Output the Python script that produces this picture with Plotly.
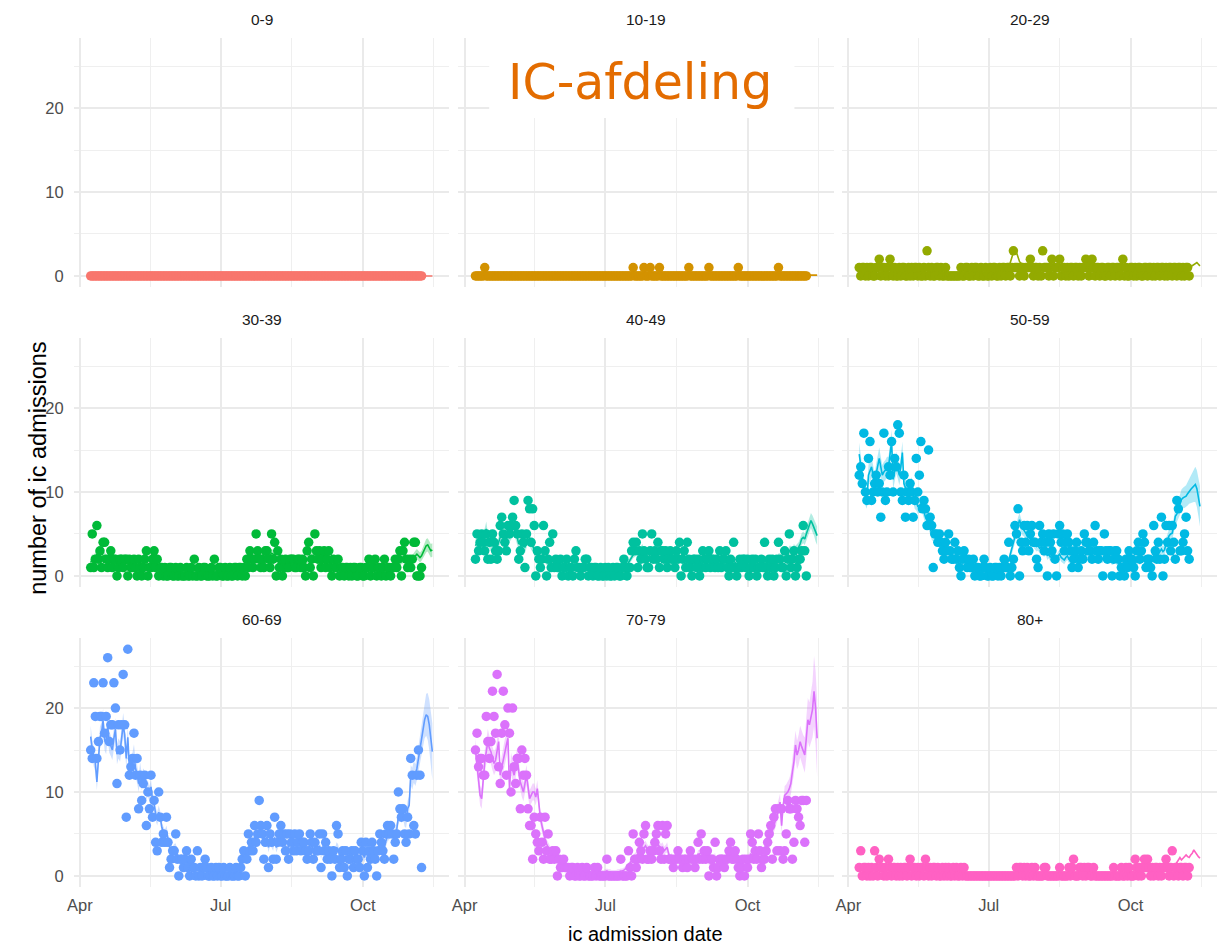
import pandas as pd
import plotly.graph_objects as go

# ---------------------------------------------------------------------------
# Daily IC admissions per age group (dots) and the model estimate with its
# uncertainty band (line + ribbon). Reported days start on 8 April 2020, the
# estimate runs one week further.
# ---------------------------------------------------------------------------
first_day = "2020-04-08"

age_groups = ["0-9", "10-19", "20-29", "30-39", "40-49",
              "50-59", "60-69", "70-79", "80+"]
group_colors = ["#F8766D", "#D39200", "#93AA00", "#00BA38", "#00C19F",
                "#00B9E3", "#619CFF", "#DB72FB", "#FF61C3"]

month_ticks = ["2020-04-01", "2020-07-01", "2020-10-01"]
month_labels = ["Apr", "Jul", "Oct"]
month_minor = ["2020-05-16 12:00", "2020-08-16", "2020-11-16"]
count_ticks = [0, 10, 20]
count_minor = [5, 15, 25]

# ---- observed admissions ---------------------------------------------------
obs_0_9 = [
    0, 0, 0, 0, 0, 0, 0, 0, 0, 0,
    0, 0, 0, 0, 0, 0, 0, 0, 0, 0,
    0, 0, 0, 0, 0, 0, 0, 0, 0, 0,
    0, 0, 0, 0, 0, 0, 0, 0, 0, 0,
    0, 0, 0, 0, 0, 0, 0, 0, 0, 0,
    0, 0, 0, 0, 0, 0, 0, 0, 0, 0,
    0, 0, 0, 0, 0, 0, 0, 0, 0, 0,
    0, 0, 0, 0, 0, 0, 0, 0, 0, 0,
    0, 0, 0, 0, 0, 0, 0, 0, 0, 0,
    0, 0, 0, 0, 0, 0, 0, 0, 0, 0,
    0, 0, 0, 0, 0, 0, 0, 0, 0, 0,
    0, 0, 0, 0, 0, 0, 0, 0, 0, 0,
    0, 0, 0, 0, 0, 0, 0, 0, 0, 0,
    0, 0, 0, 0, 0, 0, 0, 0, 0, 0,
    0, 0, 0, 0, 0, 0, 0, 0, 0, 0,
    0, 0, 0, 0, 0, 0, 0, 0, 0, 0,
    0, 0, 0, 0, 0, 0, 0, 0, 0, 0,
    0, 0, 0, 0, 0, 0, 0, 0, 0, 0,
    0, 0, 0, 0, 0, 0, 0, 0, 0, 0,
    0, 0, 0, 0, 0, 0, 0, 0, 0, 0,
    0, 0, 0, 0, 0, 0, 0, 0, 0, 0,
    0, 0, 0, 0, 0,
]
obs_10_19 = [
    0, 0, 0, 0, 0, 0, 1, 0, 0, 0,
    0, 0, 0, 0, 0, 0, 0, 0, 0, 0,
    0, 0, 0, 0, 0, 0, 0, 0, 0, 0,
    0, 0, 0, 0, 0, 0, 0, 0, 0, 0,
    0, 0, 0, 0, 0, 0, 0, 0, 0, 0,
    0, 0, 0, 0, 0, 0, 0, 0, 0, 0,
    0, 0, 0, 0, 0, 0, 0, 0, 0, 0,
    0, 0, 0, 0, 0, 0, 0, 0, 0, 0,
    0, 0, 0, 0, 0, 0, 0, 0, 0, 0,
    0, 0, 0, 0, 0, 0, 0, 0, 0, 0,
    0, 0, 1, 0, 0, 0, 0, 0, 0, 1,
    0, 0, 0, 1, 0, 0, 0, 0, 0, 1,
    0, 0, 0, 0, 0, 0, 0, 0, 0, 0,
    0, 0, 0, 0, 0, 0, 0, 0, 1, 0,
    0, 0, 0, 0, 0, 0, 0, 0, 0, 0,
    0, 1, 0, 0, 0, 0, 0, 0, 0, 0,
    0, 0, 0, 0, 0, 0, 0, 0, 0, 0,
    1, 0, 0, 0, 0, 0, 0, 0, 0, 0,
    0, 0, 0, 0, 0, 0, 0, 0, 0, 0,
    0, 0, 0, 0, 0, 0, 1, 0, 0, 0,
    0, 0, 0, 0, 0, 0, 0, 0, 0, 0,
    0, 0, 0, 0, 0,
]
obs_20_29 = [
    1, 0, 1, 1, 0, 1, 0, 1, 1, 0, 0, 1, 1, 2,
    0, 1, 1, 0, 1, 0, 2, 1, 0, 1, 0, 0, 1, 0,
    1, 1, 0, 0, 1, 0, 1, 0, 1, 1, 0, 1, 0, 0,
    1, 0, 3, 1, 0, 1, 0, 0, 1, 1, 0, 1, 0, 0,
    1, 0, 0, 0, 0, 0, 0, 0, 0, 0, 1, 0, 0, 1,
    1, 0, 0, 1, 0, 1, 1, 0, 0, 1, 0, 0, 1, 0,
    0, 1, 0, 1, 1, 0, 0, 1, 0, 1, 1, 0, 1, 1,
    0, 1, 3, 1, 1, 1, 0, 1, 1, 0, 1, 1, 1, 2,
    1, 0, 1, 1, 0, 1, 0, 3, 1, 1, 1, 0, 1, 2,
    0, 1, 1, 1, 2, 0, 1, 1, 0, 1, 0, 1, 1, 0,
    1, 1, 0, 1, 0, 1, 1, 2, 1, 0, 1, 2, 1, 0,
    1, 1, 0, 1, 1, 0, 0, 1, 1, 0, 1, 1, 0, 1,
    1, 0, 1, 2, 0, 1, 0, 0, 1, 1, 0, 1, 0, 1,
    1, 0, 0, 1, 1, 0, 1, 1, 0, 1, 0, 1, 1, 0,
    1, 1, 0, 1, 0, 1, 1, 0, 1, 1, 0, 1, 1, 0,
    1, 0, 1, 1, 0,
]
obs_30_39 = [
    1, 5, 1, 2, 6, 2, 3, 1, 4, 4,
    2, 1, 2, 3, 1, 2, 2, 0, 1, 2,
    2, 1, 2, 2, 0, 2, 1, 1, 2, 1,
    0, 2, 1, 0, 1, 2, 3, 0, 1, 1,
    2, 3, 1, 2, 0, 1, 1, 0, 1, 0,
    0, 1, 1, 0, 0, 1, 0, 0, 1, 0,
    0, 0, 1, 0, 0, 1, 0, 2, 0, 0,
    1, 0, 0, 1, 1, 0, 0, 0, 1, 0,
    2, 0, 0, 1, 1, 0, 0, 1, 0, 0,
    1, 0, 0, 1, 1, 0, 1, 1, 0, 1,
    0, 2, 1, 3, 2, 1, 2, 5, 3, 2,
    1, 2, 1, 3, 3, 2, 1, 5, 2, 4,
    0, 3, 1, 2, 0, 1, 2, 1, 1, 2,
    2, 2, 1, 1, 2, 2, 1, 2, 1, 0,
    3, 4, 1, 2, 0, 5, 3, 2, 3, 1,
    2, 3, 1, 2, 3, 1, 0, 2, 1, 1,
    2, 0, 1, 1, 0, 1, 1, 0, 1, 0,
    1, 1, 0, 0, 1, 1, 0, 0, 1, 1,
    2, 0, 1, 1, 2, 0, 1, 1, 0, 1,
    2, 0, 1, 1, 0, 1, 1, 2, 1, 2,
    3, 0, 3, 4, 2, 1, 2, 1, 2, 4,
    4, 0, 0, 0, 1,
]
obs_40_49 = [
    2, 5, 3, 4, 5, 4, 3, 5, 2, 4,
    2, 5, 4, 3, 2, 3, 6, 7, 5, 4,
    3, 6, 5, 6, 7, 9, 6, 5, 2, 3,
    5, 4, 1, 5, 9, 8, 4, 8, 6, 0,
    3, 2, 1, 2, 6, 3, 0, 2, 4, 1,
    5, 1, 2, 1, 1, 2, 0, 1, 1, 2,
    0, 1, 1, 0, 2, 3, 1, 1, 0, 1,
    1, 2, 2, 0, 1, 1, 0, 1, 1, 0,
    0, 1, 0, 0, 1, 0, 1, 0, 0, 1,
    0, 1, 1, 0, 0, 1, 2, 1, 0, 1,
    1, 3, 4, 3, 4, 1, 3, 2, 5, 3,
    2, 1, 1, 3, 5, 2, 3, 2, 4, 1,
    3, 3, 2, 3, 1, 2, 3, 2, 2, 1,
    3, 2, 4, 0, 2, 3, 1, 4, 2, 1,
    0, 2, 2, 1, 2, 0, 1, 3, 2, 1,
    2, 3, 1, 2, 2, 1, 2, 1, 3, 1,
    2, 2, 3, 1, 0, 2, 1, 4, 1, 0,
    1, 2, 1, 2, 2, 1, 2, 0, 1, 2,
    1, 2, 0, 1, 1, 2, 1, 4, 1, 0,
    2, 1, 2, 0, 1, 2, 4, 2, 1, 1,
    3, 0, 2, 5, 1, 2, 3, 0, 1, 2,
    2, 3, 6, 3, 0,
]
obs_50_59 = [
    12, 13, 11, 17, 10, 9, 14, 16, 9, 10,
    11, 12, 10, 11, 7, 10, 17, 9, 10, 13,
    12, 16, 10, 14, 13, 18, 17, 10, 9, 12,
    7, 10, 9, 11, 10, 7, 9, 14, 10, 12,
    16, 8, 9, 8, 6, 15, 7, 6, 1, 5,
    5, 4, 5, 4, 3, 2, 4, 3, 5, 3,
    2, 2, 4, 2, 3, 1, 0, 2, 3, 2,
    1, 2, 1, 1, 2, 0, 1, 1, 0, 0,
    1, 2, 1, 0, 0, 1, 0, 0, 1, 1,
    0, 1, 0, 1, 2, 1, 1, 4, 0, 1,
    2, 6, 5, 8, 0, 4, 3, 6, 4, 6,
    3, 5, 6, 4, 4, 2, 1, 6, 4, 5,
    3, 4, 0, 5, 4, 3, 5, 2, 0, 5,
    6, 4, 5, 3, 4, 5, 4, 3, 1, 2,
    3, 4, 1, 2, 3, 2, 5, 4, 4, 3,
    3, 2, 4, 6, 3, 2, 3, 3, 0, 5,
    3, 2, 3, 3, 0, 2, 3, 3, 2, 0,
    1, 1, 0, 2, 1, 3, 2, 2, 1, 0,
    3, 4, 2, 3, 5, 4, 1, 2, 2, 1,
    0, 6, 3, 2, 4, 2, 7, 0, 2, 6,
    4, 6, 3, 6, 4, 2, 9, 8, 3, 3,
    4, 5, 7, 3, 2,
]
obs_60_69 = [
    15, 14, 23, 19, 14, 16, 19, 19, 23, 17,
    19, 26, 16, 18, 18, 23, 20, 11, 18, 15,
    18, 24, 18, 7, 27, 12, 13, 14, 17, 12,
    14, 8, 12, 9, 11, 12, 6, 10, 8, 12,
    7, 9, 4, 3, 10, 7, 4, 5, 4, 7,
    4, 1, 2, 3, 3, 5, 2, 0, 2, 2,
    1, 2, 3, 1, 0, 2, 1, 1, 0, 3,
    0, 1, 0, 1, 2, 1, 0, 0, 1, 0,
    0, 1, 0, 1, 0, 0, 1, 0, 0, 0,
    1, 0, 0, 0, 1, 0, 0, 1, 2, 3,
    0, 2, 5, 3, 4, 3, 6, 4, 5, 9,
    6, 5, 2, 4, 6, 1, 5, 4, 2, 7,
    2, 4, 5, 6, 4, 5, 3, 5, 2, 5,
    4, 3, 5, 3, 4, 5, 3, 4, 4, 3,
    2, 3, 5, 4, 2, 4, 3, 3, 5, 1,
    5, 3, 4, 2, 3, 2, 0, 3, 2, 6,
    5, 1, 2, 3, 1, 3, 0, 2, 2, 3,
    1, 3, 2, 2, 1, 4, 3, 0, 4, 1,
    3, 2, 4, 3, 2, 0, 3, 5, 4, 3,
    2, 5, 6, 5, 6, 5, 2, 4, 5, 10,
    8, 7, 8, 5, 4, 7, 5, 14, 12, 6,
    5, 12, 15, 12, 1,
]
obs_70_79 = [
    15, 17, 13, 14, 14, 12, 12, 19, 16, 14,
    16, 22, 19, 17, 24, 13, 11, 17, 22, 18,
    12, 20, 17, 10, 20, 13, 11, 14, 14, 8,
    15, 12, 14, 12, 8, 6, 6, 2, 7, 5,
    4, 3, 7, 4, 2, 7, 3, 5, 2, 2,
    3, 2, 3, 0, 2, 1, 1, 2, 1, 1,
    1, 0, 1, 1, 0, 0, 1, 0, 0, 1,
    0, 0, 1, 0, 0, 0, 0, 1, 0, 1,
    0, 0, 0, 0, 0, 2, 0, 0, 0, 0,
    0, 0, 0, 0, 2, 0, 0, 0, 0, 3,
    1, 0, 5, 2, 1, 2, 4, 3, 2, 5,
    6, 2, 2, 3, 2, 3, 4, 5, 6, 3,
    2, 6, 2, 5, 6, 2, 2, 2, 1, 2,
    2, 3, 2, 2, 1, 2, 2, 1, 2, 3,
    2, 2, 1, 2, 4, 2, 5, 2, 3, 2,
    3, 0, 2, 2, 1, 4, 0, 1, 2, 2,
    2, 1, 2, 2, 3, 4, 2, 2, 3, 2,
    1, 0, 1, 2, 0, 2, 1, 2, 5, 4,
    2, 3, 2, 5, 3, 1, 2, 2, 3, 4,
    5, 6, 2, 7, 8, 3, 8, 3, 8, 2,
    3, 5, 9, 8, 8, 2, 4, 9, 8, 7,
    6, 9, 9, 4, 9,
]
obs_80_plus = [
    1, 3, 0, 1, 1, 0, 1, 0, 1, 0, 3, 1, 0, 2,
    1, 1, 0, 1, 0, 2, 1, 0, 1, 1, 0, 1, 0, 1,
    0, 1, 1, 0, 1, 2, 0, 1, 1, 0, 1, 0, 1, 1,
    0, 2, 1, 0, 1, 0, 1, 1, 0, 1, 0, 0, 1, 0,
    1, 0, 1, 0, 0, 1, 0, 1, 0, 0, 1, 0, 1, 0,
    0, 0, 0, 0, 0, 0, 0, 0, 0, 0, 0, 0, 0, 0,
    0, 0, 0, 0, 0, 0, 0, 0, 0, 0, 0, 0, 0, 0,
    0, 0, 0, 0, 1, 0, 1, 1, 0, 1, 0, 1, 0, 0,
    1, 0, 1, 0, 0, 0, 0, 0, 1, 1, 0, 0, 0, 0,
    0, 0, 0, 0, 1, 0, 0, 0, 0, 0, 1, 0, 1, 2,
    0, 0, 0, 1, 1, 0, 1, 0, 1, 1, 0, 0, 1, 0,
    0, 0, 0, 0, 0, 0, 0, 0, 0, 0, 0, 1, 0, 0,
    0, 0, 1, 0, 0, 1, 0, 1, 0, 0, 0, 2, 1, 0,
    1, 0, 1, 2, 1, 2, 1, 0, 1, 0, 1, 1, 0, 1,
    0, 1, 1, 2, 1, 0, 1, 3, 0, 1, 1, 0, 1, 1,
    0, 1, 1, 0, 1,
]

# ---- model estimate (line) ---------------------------------------------------
fit_0_9 = [
    0, 0, 0, 0, 0, 0, 0, 0, 0, 0,
    0, 0, 0, 0, 0, 0, 0, 0, 0, 0,
    0, 0, 0, 0, 0, 0, 0, 0, 0, 0,
    0, 0, 0, 0, 0, 0, 0, 0, 0, 0,
    0, 0, 0, 0, 0, 0, 0, 0, 0, 0,
    0, 0, 0, 0, 0, 0, 0, 0, 0, 0,
    0, 0, 0, 0, 0, 0, 0, 0, 0, 0,
    0, 0, 0, 0, 0, 0, 0, 0, 0, 0,
    0, 0, 0, 0, 0, 0, 0, 0, 0, 0,
    0, 0, 0, 0, 0, 0, 0, 0, 0, 0,
    0, 0, 0, 0, 0, 0, 0, 0, 0, 0,
    0, 0, 0, 0, 0, 0, 0, 0, 0, 0,
    0, 0, 0, 0, 0, 0, 0, 0, 0, 0,
    0, 0, 0, 0, 0, 0, 0, 0, 0, 0,
    0, 0, 0, 0, 0, 0, 0, 0, 0, 0,
    0, 0, 0, 0, 0, 0, 0, 0, 0, 0,
    0, 0, 0, 0, 0, 0, 0, 0, 0, 0,
    0, 0, 0, 0, 0, 0, 0, 0, 0, 0,
    0, 0, 0, 0, 0, 0, 0, 0, 0, 0,
    0, 0, 0, 0, 0, 0, 0, 0, 0, 0,
    0, 0, 0, 0, 0, 0, 0, 0, 0, 0,
    0, 0, 0, 0, 0, 0, 0, 0, 0, 0,
    0, 0,
]
fit_10_19 = [
    0.1, 0.1, 0.1, 0.1, 0.1, 0.1, 0.2, 0.2, 0.1, 0.1,
    0.1, 0.1, 0.1, 0.1, 0.1, 0.1, 0.1, 0.1, 0.1, 0.1,
    0.1, 0.1, 0.1, 0.1, 0.1, 0.1, 0.1, 0.1, 0.1, 0.1,
    0.1, 0.1, 0.1, 0.1, 0.1, 0.1, 0.1, 0.0, 0.0, 0.0,
    0.0, 0.0, 0.0, 0.0, 0.0, 0.0, 0.0, 0.0, 0.0, 0.0,
    0.0, 0.0, 0.0, 0.0, 0.0, 0.0, 0.0, 0.0, 0.0, 0.0,
    0.0, 0.0, 0.0, 0.0, 0.0, 0.0, 0.0, 0.0, 0.0, 0.0,
    0.0, 0.0, 0.0, 0.0, 0.0, 0.0, 0.0, 0.0, 0.0, 0.0,
    0.0, 0.0, 0.0, 0.0, 0.0, 0.0, 0.0, 0.0, 0.0, 0.0,
    0.0, 0.0, 0.0, 0.0, 0.0, 0.0, 0.1, 0.1, 0.1, 0.1,
    0.1, 0.1, 0.2, 0.2, 0.2, 0.1, 0.1, 0.1, 0.2, 0.2,
    0.2, 0.2, 0.2, 0.2, 0.2, 0.2, 0.2, 0.2, 0.2, 0.2,
    0.2, 0.1, 0.1, 0.1, 0.1, 0.1, 0.1, 0.1, 0.1, 0.1,
    0.1, 0.1, 0.1, 0.1, 0.1, 0.1, 0.1, 0.1, 0.2, 0.2,
    0.1, 0.1, 0.1, 0.1, 0.1, 0.1, 0.1, 0.1, 0.1, 0.1,
    0.1, 0.2, 0.2, 0.1, 0.1, 0.1, 0.1, 0.1, 0.1, 0.1,
    0.1, 0.1, 0.1, 0.1, 0.1, 0.1, 0.1, 0.1, 0.1, 0.1,
    0.2, 0.1, 0.1, 0.1, 0.1, 0.1, 0.1, 0.1, 0.1, 0.1,
    0.1, 0.1, 0.1, 0.1, 0.1, 0.1, 0.1, 0.1, 0.1, 0.1,
    0.1, 0.1, 0.1, 0.1, 0.1, 0.1, 0.2, 0.2, 0.1, 0.1,
    0.1, 0.1, 0.1, 0.1, 0.1, 0.1, 0.1, 0.1, 0.1, 0.1,
    0.1, 0.1, 0.1, 0.1, 0.1, 0.1, 0.1, 0.1, 0.1, 0.1,
    0.1, 0.1,
]
fit_20_29 = [
    0.6, 0.7, 0.7, 0.6, 0.6, 0.7, 0.8, 0.7, 0.6, 0.6,
    0.7, 0.8, 0.9, 0.9, 0.8, 0.7, 0.7, 0.8, 0.9, 0.9,
    0.9, 0.8, 0.6, 0.6, 0.5, 0.5, 0.6, 0.6, 0.6, 0.5,
    0.5, 0.5, 0.5, 0.6, 0.6, 0.6, 0.6, 0.6, 0.5, 0.5,
    0.6, 0.7, 0.9, 1.0, 1.0, 0.9, 0.7, 0.6, 0.5, 0.5,
    0.5, 0.5, 0.5, 0.4, 0.4, 0.3, 0.3, 0.2, 0.1, 0.1,
    0.1, 0.1, 0.1, 0.1, 0.1, 0.1, 0.2, 0.2, 0.3, 0.4,
    0.4, 0.4, 0.4, 0.4, 0.4, 0.5, 0.5, 0.4, 0.4, 0.4,
    0.4, 0.4, 0.5, 0.5, 0.4, 0.5, 0.5, 0.6, 0.6, 0.6,
    0.5, 0.6, 0.6, 0.7, 0.8, 0.8, 0.9, 1.0, 1.6, 2.3,
    3.0, 3.4, 2.8, 2.2, 1.7, 1.5, 1.2, 1.0, 1.0, 1.0,
    1.1, 1.2, 1.0, 0.9, 0.9, 0.8, 0.8, 0.9, 1.1, 1.3,
    1.2, 1.0, 0.9, 0.9, 1.0, 1.1, 1.0, 0.9, 0.9, 1.0,
    1.1, 0.9, 0.8, 0.8, 0.7, 0.7, 0.7, 0.7, 0.7, 0.7,
    0.7, 0.7, 0.7, 0.7, 0.8, 0.8, 0.9, 1.0, 0.9, 0.8,
    0.9, 1.0, 0.9, 0.8, 0.7, 0.7, 0.7, 0.7, 0.6, 0.6,
    0.6, 0.6, 0.6, 0.6, 0.6, 0.6, 0.6, 0.7, 0.8, 0.8,
    0.9, 1.0, 0.8, 0.7, 0.6, 0.6, 0.6, 0.6, 0.6, 0.6,
    0.6, 0.6, 0.6, 0.6, 0.6, 0.6, 0.6, 0.6, 0.6, 0.6,
    0.6, 0.6, 0.6, 0.6, 0.6, 0.6, 0.7, 0.7, 0.7, 0.7,
    0.7, 0.7, 0.7, 0.7, 0.7, 0.7, 0.7, 0.7, 0.7, 0.8,
    0.8, 0.9, 0.9, 1.0, 1.0, 1.1, 1.2, 1.3, 1.5, 1.6,
    1.4, 1.2,
]
fit_30_39 = [
    1.6, 2.0, 1.8, 2.2, 2.6, 2.2, 2.4, 2.0, 2.4, 2.2,
    2.0, 1.8, 2.0, 2.0, 1.8, 1.8, 1.6, 1.4, 1.6, 1.6,
    1.6, 1.5, 1.6, 1.5, 1.4, 1.5, 1.4, 1.4, 1.4, 1.3,
    1.2, 1.2, 1.1, 1.0, 1.1, 1.3, 1.4, 1.2, 1.2, 1.3,
    1.5, 1.6, 1.4, 1.2, 1.0, 0.9, 0.8, 0.8, 0.7, 0.7,
    0.6, 0.6, 0.6, 0.5, 0.5, 0.5, 0.5, 0.4, 0.4, 0.4,
    0.4, 0.4, 0.4, 0.4, 0.5, 0.5, 0.6, 0.7, 0.6, 0.5,
    0.5, 0.5, 0.5, 0.5, 0.5, 0.5, 0.5, 0.5, 0.5, 0.5,
    0.6, 0.6, 0.5, 0.5, 0.5, 0.5, 0.5, 0.5, 0.5, 0.5,
    0.5, 0.5, 0.5, 0.5, 0.6, 0.6, 0.7, 0.7, 0.8, 0.9,
    1.0, 1.2, 1.4, 1.7, 1.9, 2.0, 2.2, 2.6, 2.6, 2.4,
    2.2, 2.1, 2.2, 2.4, 2.5, 2.4, 2.4, 2.7, 2.6, 2.5,
    2.2, 2.0, 1.8, 1.6, 1.4, 1.4, 1.5, 1.5, 1.5, 1.6,
    1.7, 1.7, 1.6, 1.6, 1.6, 1.6, 1.5, 1.5, 1.5, 1.6,
    2.0, 2.2, 2.1, 2.2, 2.3, 2.4, 2.4, 2.3, 2.3, 2.2,
    2.1, 2.1, 2.0, 1.9, 1.8, 1.6, 1.4, 1.3, 1.2, 1.2,
    1.1, 1.0, 1.0, 0.9, 0.9, 0.8, 0.8, 0.8, 0.7, 0.7,
    0.7, 0.7, 0.7, 0.7, 0.7, 0.7, 0.7, 0.7, 0.8, 0.8,
    0.8, 0.8, 0.8, 0.9, 0.9, 0.9, 0.9, 0.9, 0.9, 0.9,
    1.0, 1.0, 1.0, 1.0, 1.0, 1.0, 1.1, 1.2, 1.3, 1.5,
    1.7, 1.8, 2.0, 2.2, 2.1, 1.9, 1.8, 1.8, 2.0, 2.2,
    2.5, 2.6, 2.4, 2.2, 2.4, 2.8, 3.1, 3.6, 3.7, 3.3,
    3.0, 3.1,
]
fit_40_49 = [
    3.6, 4.0, 4.4, 3.8, 4.6, 4.2, 5.0, 5.6, 4.4, 4.0,
    3.6, 4.4, 4.0, 3.8, 3.4, 4.0, 4.8, 5.2, 4.6, 4.2,
    4.4, 5.0, 4.8, 5.2, 5.4, 5.8, 5.0, 4.6, 3.8, 4.2,
    4.0, 3.6, 3.4, 4.0, 4.8, 4.4, 3.8, 3.6, 3.0, 2.6,
    2.6, 2.2, 2.0, 2.2, 2.4, 2.0, 1.8, 1.8, 1.6, 1.6,
    1.8, 1.4, 1.4, 1.3, 1.2, 1.2, 1.1, 1.1, 1.1, 1.0,
    1.0, 1.0, 1.0, 1.1, 1.2, 1.3, 1.2, 1.0, 0.9, 1.0,
    1.1, 1.1, 1.0, 0.9, 0.8, 0.8, 0.7, 0.7, 0.7, 0.6,
    0.6, 0.6, 0.6, 0.5, 0.5, 0.5, 0.6, 0.6, 0.6, 0.6,
    0.6, 0.6, 0.7, 0.7, 0.8, 0.9, 1.1, 1.2, 1.3, 1.6,
    1.9, 2.2, 2.6, 2.8, 2.9, 2.6, 2.8, 3.0, 3.2, 2.8,
    2.4, 2.2, 2.2, 2.6, 3.0, 2.6, 2.6, 2.4, 2.6, 2.2,
    2.4, 2.4, 2.2, 2.2, 2.0, 2.0, 2.2, 2.0, 1.8, 1.8,
    2.0, 2.2, 2.4, 2.0, 2.0, 2.2, 1.8, 2.2, 1.8, 1.6,
    1.4, 1.6, 1.6, 1.4, 1.6, 1.4, 1.8, 2.0, 1.8, 1.6,
    1.8, 2.0, 1.8, 1.8, 1.6, 1.6, 1.6, 1.6, 1.8, 1.6,
    1.6, 1.8, 1.8, 1.6, 1.4, 1.6, 1.6, 1.8, 1.6, 1.4,
    1.4, 1.4, 1.4, 1.4, 1.4, 1.4, 1.4, 1.2, 1.2, 1.4,
    1.4, 1.4, 1.2, 1.2, 1.4, 1.4, 1.4, 1.8, 1.6, 1.4,
    1.4, 1.4, 1.6, 1.4, 1.6, 1.8, 2.2, 2.2, 2.0, 2.0,
    2.2, 2.0, 2.4, 3.0, 3.0, 2.8, 3.2, 3.0, 3.2, 3.4,
    3.8, 4.4, 4.6, 4.4, 5.0, 5.6, 6.2, 6.6, 6.2, 5.8,
    5.2, 4.8,
]
fit_50_59 = [
    14.5, 13.0, 12.0, 10.5, 9.5, 9.0, 12.0, 12.6, 13.0, 12.0,
    11.0, 12.2, 13.0, 14.0, 13.0, 12.0, 12.4, 12.6, 13.0, 13.0,
    14.5, 16.0, 11.5, 12.6, 13.5, 12.8, 12.0, 13.0, 14.7, 11.0,
    10.6, 10.0, 10.4, 10.2, 10.7, 9.8, 9.0, 8.8, 8.3, 8.4,
    8.6, 8.3, 7.6, 7.0, 6.6, 6.3, 5.8, 5.0, 4.8, 4.6,
    4.4, 4.3, 4.0, 3.8, 3.6, 3.5, 3.3, 3.1, 3.0, 2.8,
    2.5, 2.3, 2.4, 2.1, 2.0, 2.1, 1.8, 1.7, 1.8, 1.6,
    1.5, 1.4, 1.3, 1.3, 1.1, 1.0, 0.9, 0.9, 0.8, 0.7,
    0.7, 0.8, 0.7, 0.6, 0.7, 0.7, 0.6, 0.7, 0.7, 0.8,
    0.8, 0.9, 1.0, 1.1, 1.2, 1.3, 1.5, 1.9, 2.6, 3.2,
    3.9, 4.6, 5.4, 6.2, 6.7, 6.0, 5.6, 5.4, 5.1, 4.8,
    4.6, 4.4, 4.6, 4.0, 3.8, 3.5, 3.6, 3.3, 3.4, 3.0,
    2.8, 3.0, 2.4, 2.6, 2.2, 2.6, 2.4, 2.1, 2.0, 2.4,
    2.6, 2.2, 2.0, 1.9, 2.2, 2.4, 2.0, 2.1, 1.8, 2.2,
    2.2, 2.6, 2.3, 2.0, 2.4, 2.6, 2.8, 2.5, 2.6, 2.8,
    2.7, 2.7, 2.9, 3.0, 2.5, 2.5, 2.4, 2.2, 2.0, 2.6,
    2.3, 2.2, 2.4, 2.0, 1.8, 1.9, 2.0, 1.8, 1.7, 1.4,
    1.4, 1.5, 1.3, 1.5, 1.6, 1.5, 1.7, 1.5, 1.3, 1.5,
    1.8, 2.0, 1.8, 2.0, 2.2, 2.0, 1.6, 1.6, 1.8, 2.0,
    2.1, 2.4, 2.3, 2.4, 2.6, 2.9, 3.2, 2.9, 3.1, 3.8,
    4.4, 4.8, 5.0, 5.1, 6.0, 7.1, 7.4, 7.9, 8.4, 9.1,
    9.3, 9.4, 9.5, 9.8, 10.1, 10.3, 10.5, 10.7, 10.9, 10.4,
    9.4, 8.3,
]
fit_60_69 = [
    16.6, 15.0, 14.2, 13.5, 11.2, 14.0, 16.5, 17.0, 18.5, 16.2,
    15.8, 17.8, 16.0, 15.5, 15.0, 16.4, 17.5, 14.5, 15.2, 14.8,
    16.5, 18.0, 16.8, 14.0, 16.5, 13.0, 12.6, 13.4, 14.5, 12.8,
    12.2, 11.0, 12.4, 11.2, 11.8, 11.5, 10.0, 10.4, 9.8, 10.6,
    9.0, 8.6, 7.4, 6.8, 7.6, 7.0, 5.8, 5.2, 4.8, 5.4,
    4.2, 3.5, 3.2, 3.0, 3.3, 3.4, 2.6, 2.0, 2.1, 2.2,
    1.8, 2.0, 2.1, 1.6, 1.3, 1.5, 1.2, 1.1, 0.9, 1.3,
    0.8, 0.8, 0.7, 0.8, 1.0, 0.8, 0.6, 0.5, 0.6, 0.5,
    0.4, 0.5, 0.4, 0.5, 0.4, 0.4, 0.5, 0.4, 0.3, 0.3,
    0.5, 0.4, 0.4, 0.5, 0.7, 0.8, 0.9, 1.2, 1.6, 2.2,
    2.0, 2.6, 3.4, 3.5, 3.8, 4.0, 4.6, 4.4, 4.8, 5.4,
    5.2, 4.8, 4.0, 4.2, 4.6, 3.4, 4.2, 4.0, 3.6, 4.6,
    3.4, 3.8, 4.4, 4.8, 4.2, 4.4, 3.8, 4.2, 3.4, 4.0,
    4.0, 3.8, 4.2, 3.6, 3.8, 4.0, 3.6, 3.8, 3.8, 3.4,
    3.0, 3.2, 3.8, 3.6, 3.0, 3.4, 3.2, 3.2, 3.6, 2.6,
    3.4, 3.2, 3.2, 2.8, 2.8, 2.6, 2.0, 2.4, 2.6, 3.4,
    3.2, 2.4, 2.4, 2.6, 2.0, 2.4, 1.8, 2.0, 2.2, 2.4,
    2.0, 2.4, 2.2, 2.2, 2.0, 2.8, 2.8, 2.2, 2.8, 2.4,
    2.6, 2.8, 3.2, 3.0, 2.8, 2.4, 3.0, 3.6, 3.8, 3.6,
    3.4, 4.2, 4.8, 5.0, 5.4, 5.2, 4.6, 5.0, 5.6, 7.0,
    7.6, 7.2, 7.8, 6.8, 6.6, 8.0, 8.4, 12.0, 11.6, 12.4,
    12.0, 12.8, 14.0, 15.0, 16.4, 17.6, 18.6, 19.2, 19.0, 18.0,
    16.4, 14.8,
]
fit_70_79 = [
    15.0, 13.0, 11.0, 9.6, 9.2, 12.0, 13.6, 14.8, 16.0, 15.2,
    14.8, 14.0, 13.4, 13.8, 15.0, 16.0, 12.0, 13.0, 14.0, 14.8,
    15.6, 16.4, 10.4, 13.4, 12.6, 12.0, 13.0, 14.0, 12.4, 11.2,
    10.6, 10.0, 11.0, 12.0, 10.6, 9.2, 9.6, 10.0, 10.0, 9.4,
    10.4, 8.2, 6.9, 6.0, 5.0, 4.4, 3.8, 3.4, 3.0, 2.6,
    2.2, 2.1, 1.9, 1.8, 1.6, 1.5, 1.4, 1.2, 1.1, 1.0,
    1.0, 0.9, 0.9, 0.8, 0.8, 0.7, 0.7, 0.6, 0.6, 0.6,
    0.5, 0.5, 0.6, 0.5, 0.5, 0.4, 0.5, 0.5, 0.5, 0.5,
    0.5, 0.5, 0.4, 0.4, 0.5, 0.6, 0.5, 0.5, 0.4, 0.4,
    0.4, 0.4, 0.5, 0.5, 0.6, 0.6, 0.7, 0.8, 1.0, 1.3,
    1.6, 1.8, 2.0, 2.2, 2.4, 2.6, 2.9, 3.0, 3.1, 3.4,
    3.6, 3.2, 3.0, 3.2, 3.2, 3.3, 3.4, 3.6, 3.8, 3.4,
    3.2, 3.4, 3.0, 3.2, 3.4, 2.6, 2.1, 2.2, 2.0, 2.1,
    2.2, 2.4, 2.2, 2.0, 1.9, 2.0, 2.0, 1.8, 2.0, 2.2,
    2.1, 2.0, 1.8, 2.0, 2.6, 2.6, 2.8, 2.6, 2.6, 2.4,
    2.4, 1.8, 1.9, 2.0, 2.0, 2.2, 1.6, 1.6, 1.7, 1.8,
    1.8, 1.7, 1.8, 2.0, 2.4, 2.6, 2.4, 2.4, 2.4, 2.2,
    1.8, 1.5, 1.4, 1.5, 1.6, 1.8, 1.9, 2.2, 2.6, 2.5,
    2.5, 2.6, 2.8, 3.0, 3.0, 2.8, 2.8, 3.0, 3.3, 3.6,
    4.2, 4.8, 5.7, 6.0, 6.6, 7.3, 7.8, 8.8, 6.0, 8.4,
    9.6, 9.8, 10.0, 10.4, 11.0, 12.4, 13.6, 15.6, 14.4, 15.0,
    16.0, 15.4, 14.8, 14.4, 16.4, 18.6, 18.0, 18.8, 19.8, 22.0,
    20.0, 16.4,
]
fit_80_plus = [
    0.9, 1.2, 1.0, 0.8, 0.7, 0.8, 0.8, 0.7, 0.8, 0.9,
    1.2, 1.0, 0.9, 1.0, 0.9, 0.8, 0.7, 0.7, 0.8, 0.9,
    0.8, 0.7, 0.7, 0.6, 0.6, 0.6, 0.6, 0.6, 0.6, 0.6,
    0.6, 0.7, 0.8, 0.8, 0.7, 0.6, 0.6, 0.6, 0.6, 0.6,
    0.6, 0.6, 0.7, 0.8, 0.7, 0.6, 0.5, 0.5, 0.5, 0.5,
    0.5, 0.4, 0.4, 0.4, 0.4, 0.4, 0.4, 0.4, 0.4, 0.3,
    0.3, 0.3, 0.3, 0.3, 0.3, 0.3, 0.3, 0.3, 0.3, 0.2,
    0.2, 0.1, 0.1, 0.1, 0.1, 0.1, 0.1, 0.1, 0.1, 0.1,
    0.1, 0.1, 0.1, 0.1, 0.1, 0.1, 0.1, 0.1, 0.1, 0.1,
    0.1, 0.1, 0.1, 0.1, 0.1, 0.1, 0.1, 0.1, 0.1, 0.1,
    0.2, 0.2, 0.3, 0.3, 0.4, 0.4, 0.4, 0.4, 0.4, 0.4,
    0.3, 0.3, 0.3, 0.3, 0.3, 0.2, 0.2, 0.2, 0.2, 0.3,
    0.3, 0.3, 0.3, 0.2, 0.2, 0.2, 0.2, 0.2, 0.2, 0.2,
    0.3, 0.3, 0.2, 0.2, 0.2, 0.2, 0.3, 0.3, 0.4, 0.5,
    0.4, 0.4, 0.4, 0.4, 0.5, 0.5, 0.5, 0.5, 0.5, 0.5,
    0.4, 0.3, 0.3, 0.3, 0.2, 0.2, 0.2, 0.2, 0.2, 0.2,
    0.2, 0.2, 0.2, 0.2, 0.2, 0.3, 0.3, 0.3, 0.3, 0.3,
    0.3, 0.3, 0.3, 0.3, 0.4, 0.4, 0.4, 0.5, 0.6, 0.7,
    0.7, 0.7, 0.8, 0.9, 1.0, 1.1, 1.1, 1.1, 1.0, 0.9,
    0.8, 0.8, 0.8, 0.8, 0.8, 0.9, 1.0, 1.1, 1.2, 1.3,
    1.3, 1.2, 1.3, 1.4, 1.3, 1.3, 1.6, 1.9, 2.2, 1.9,
    2.1, 2.4, 2.5, 2.3, 2.2, 2.5, 2.7, 3.1, 2.8, 2.5,
    2.3, 2.1,
]

# ---- half width of the uncertainty band around the estimate -----------------
band_30_39 = [
    0.6, 0.6, 0.6, 0.7, 0.7, 0.7, 0.7, 0.6, 0.7, 0.6,
    0.6, 0.6, 0.6, 0.6, 0.5, 0.5, 0.5, 0.5, 0.5, 0.5,
    0.5, 0.5, 0.5, 0.5, 0.5, 0.5, 0.5, 0.5, 0.5, 0.5,
    0.4, 0.4, 0.4, 0.4, 0.4, 0.4, 0.5, 0.4, 0.4, 0.4,
    0.5, 0.5, 0.4, 0.4, 0.4, 0.3, 0.3, 0.3, 0.3, 0.3,
    0.3, 0.3, 0.3, 0.3, 0.3, 0.3, 0.3, 0.3, 0.3, 0.3,
    0.3, 0.3, 0.3, 0.3, 0.3, 0.3, 0.3, 0.3, 0.3, 0.3,
    0.3, 0.3, 0.3, 0.3, 0.3, 0.3, 0.3, 0.3, 0.3, 0.3,
    0.3, 0.3, 0.3, 0.3, 0.3, 0.3, 0.3, 0.3, 0.3, 0.3,
    0.3, 0.3, 0.3, 0.3, 0.3, 0.3, 0.3, 0.3, 0.3, 0.3,
    0.3, 0.4, 0.4, 0.4, 0.5, 0.5, 0.5, 0.5, 0.5, 0.5,
    0.5, 0.5, 0.5, 0.5, 0.5, 0.5, 0.5, 0.5, 0.5, 0.5,
    0.5, 0.4, 0.4, 0.4, 0.4, 0.4, 0.4, 0.4, 0.4, 0.4,
    0.4, 0.4, 0.4, 0.4, 0.4, 0.4, 0.4, 0.4, 0.4, 0.4,
    0.5, 0.5, 0.5, 0.5, 0.5, 0.5, 0.5, 0.5, 0.5, 0.5,
    0.5, 0.5, 0.4, 0.4, 0.4, 0.4, 0.4, 0.4, 0.3, 0.3,
    0.3, 0.3, 0.3, 0.3, 0.3, 0.3, 0.3, 0.3, 0.3, 0.3,
    0.3, 0.3, 0.3, 0.3, 0.3, 0.3, 0.3, 0.3, 0.3, 0.3,
    0.3, 0.3, 0.3, 0.3, 0.3, 0.3, 0.3, 0.3, 0.3, 0.3,
    0.3, 0.3, 0.3, 0.3, 0.3, 0.3, 0.3, 0.4, 0.4, 0.4,
    0.4, 0.4, 0.5, 0.5, 0.5, 0.5, 0.4, 0.4, 0.5, 0.5,
    0.5, 0.6, 0.6, 0.6, 0.6, 0.6, 0.7, 0.8, 0.8, 0.8,
    0.8, 0.8,
]
band_40_49 = [
    0.7, 0.7, 0.8, 0.7, 0.8, 0.7, 0.8, 0.9, 0.8, 0.7,
    0.7, 0.8, 0.7, 0.7, 0.7, 0.7, 0.8, 0.8, 0.8, 0.7,
    0.8, 0.8, 0.8, 0.8, 0.8, 0.9, 0.8, 0.8, 0.7, 0.7,
    0.7, 0.7, 0.7, 0.7, 0.8, 0.8, 0.7, 0.7, 0.6, 0.6,
    0.6, 0.5, 0.5, 0.5, 0.5, 0.5, 0.5, 0.5, 0.4, 0.4,
    0.4, 0.4, 0.4, 0.4, 0.4, 0.4, 0.4, 0.4, 0.4, 0.3,
    0.3, 0.3, 0.3, 0.3, 0.3, 0.3, 0.3, 0.3, 0.3, 0.3,
    0.3, 0.3, 0.3, 0.3, 0.3, 0.3, 0.3, 0.3, 0.3, 0.3,
    0.3, 0.3, 0.3, 0.3, 0.3, 0.3, 0.3, 0.3, 0.3, 0.3,
    0.3, 0.3, 0.3, 0.3, 0.3, 0.3, 0.3, 0.3, 0.3, 0.3,
    0.4, 0.4, 0.5, 0.5, 0.5, 0.5, 0.5, 0.5, 0.6, 0.5,
    0.5, 0.5, 0.5, 0.5, 0.6, 0.5, 0.5, 0.5, 0.5, 0.5,
    0.5, 0.5, 0.5, 0.5, 0.4, 0.4, 0.5, 0.4, 0.4, 0.4,
    0.4, 0.5, 0.5, 0.4, 0.4, 0.5, 0.4, 0.5, 0.4, 0.4,
    0.4, 0.4, 0.4, 0.4, 0.4, 0.4, 0.4, 0.4, 0.4, 0.4,
    0.4, 0.4, 0.4, 0.4, 0.4, 0.4, 0.4, 0.4, 0.4, 0.4,
    0.4, 0.4, 0.4, 0.4, 0.4, 0.4, 0.4, 0.4, 0.4, 0.4,
    0.4, 0.4, 0.4, 0.4, 0.4, 0.4, 0.4, 0.4, 0.4, 0.4,
    0.4, 0.4, 0.4, 0.4, 0.4, 0.4, 0.4, 0.4, 0.4, 0.4,
    0.4, 0.4, 0.4, 0.4, 0.4, 0.4, 0.5, 0.5, 0.5, 0.5,
    0.5, 0.5, 0.5, 0.6, 0.6, 0.6, 0.6, 0.6, 0.6, 0.6,
    0.7, 0.7, 0.7, 0.7, 0.8, 0.8, 0.9, 0.9, 1.0, 1.0,
    1.1, 1.1,
]
band_50_59 = [
    1.4, 1.3, 1.2, 1.1, 1.1, 1.0, 1.2, 1.2, 1.3, 1.2,
    1.2, 1.2, 1.2, 1.3, 1.2, 1.2, 1.2, 1.2, 1.2, 1.2,
    1.3, 1.4, 1.2, 1.2, 1.3, 1.2, 1.2, 1.2, 1.3, 1.1,
    1.1, 1.1, 1.1, 1.1, 1.1, 1.0, 1.0, 1.0, 0.9, 0.9,
    0.9, 0.9, 0.9, 0.8, 0.8, 0.8, 0.8, 0.7, 0.7, 0.7,
    0.7, 0.7, 0.6, 0.6, 0.6, 0.6, 0.6, 0.6, 0.5, 0.5,
    0.5, 0.5, 0.5, 0.5, 0.4, 0.4, 0.4, 0.4, 0.4, 0.4,
    0.4, 0.4, 0.4, 0.4, 0.3, 0.3, 0.3, 0.3, 0.3, 0.3,
    0.3, 0.3, 0.3, 0.3, 0.3, 0.3, 0.3, 0.3, 0.3, 0.3,
    0.3, 0.3, 0.3, 0.3, 0.4, 0.4, 0.4, 0.4, 0.5, 0.6,
    0.6, 0.7, 0.8, 0.8, 0.8, 0.8, 0.8, 0.7, 0.7, 0.7,
    0.7, 0.7, 0.7, 0.6, 0.6, 0.6, 0.6, 0.6, 0.6, 0.6,
    0.5, 0.5, 0.5, 0.5, 0.5, 0.5, 0.5, 0.5, 0.5, 0.5,
    0.5, 0.5, 0.5, 0.5, 0.5, 0.5, 0.5, 0.5, 0.5, 0.5,
    0.5, 0.5, 0.5, 0.5, 0.5, 0.5, 0.5, 0.5, 0.5, 0.5,
    0.5, 0.5, 0.5, 0.5, 0.5, 0.5, 0.5, 0.5, 0.5, 0.5,
    0.5, 0.5, 0.5, 0.5, 0.5, 0.5, 0.5, 0.5, 0.5, 0.5,
    0.5, 0.5, 0.5, 0.5, 0.5, 0.5, 0.5, 0.5, 0.5, 0.5,
    0.5, 0.5, 0.5, 0.5, 0.5, 0.5, 0.5, 0.5, 0.5, 0.5,
    0.5, 0.5, 0.5, 0.5, 0.5, 0.6, 0.6, 0.6, 0.6, 0.7,
    0.7, 0.8, 0.8, 0.8, 0.9, 1.0, 1.0, 1.1, 1.1, 1.2,
    1.2, 1.3, 1.3, 1.4, 1.5, 1.6, 1.7, 1.9, 2.1, 2.2,
    2.3, 2.4,
]
band_60_69 = [
    1.3, 1.2, 1.2, 1.1, 1.0, 1.2, 1.3, 1.3, 1.4, 1.3,
    1.3, 1.3, 1.3, 1.2, 1.2, 1.3, 1.3, 1.2, 1.2, 1.2,
    1.3, 1.4, 1.3, 1.2, 1.3, 1.1, 1.1, 1.2, 1.2, 1.1,
    1.1, 1.0, 1.1, 1.0, 1.0, 1.0, 0.9, 0.9, 0.9, 0.9,
    0.9, 0.8, 0.8, 0.8, 0.8, 0.7, 0.7, 0.7, 0.7, 0.6,
    0.6, 0.5, 0.5, 0.5, 0.5, 0.5, 0.4, 0.4, 0.4, 0.4,
    0.4, 0.4, 0.4, 0.4, 0.3, 0.3, 0.3, 0.3, 0.3, 0.3,
    0.3, 0.3, 0.3, 0.3, 0.3, 0.3, 0.3, 0.3, 0.3, 0.3,
    0.3, 0.3, 0.3, 0.3, 0.3, 0.3, 0.3, 0.3, 0.3, 0.3,
    0.3, 0.3, 0.3, 0.3, 0.3, 0.3, 0.3, 0.3, 0.3, 0.3,
    0.4, 0.5, 0.5, 0.5, 0.6, 0.6, 0.6, 0.6, 0.6, 0.7,
    0.6, 0.6, 0.6, 0.6, 0.6, 0.6, 0.6, 0.6, 0.6, 0.6,
    0.6, 0.6, 0.6, 0.6, 0.6, 0.6, 0.6, 0.6, 0.6, 0.6,
    0.6, 0.6, 0.6, 0.6, 0.6, 0.6, 0.6, 0.6, 0.6, 0.6,
    0.6, 0.6, 0.6, 0.6, 0.6, 0.6, 0.6, 0.6, 0.6, 0.6,
    0.6, 0.6, 0.6, 0.6, 0.6, 0.6, 0.6, 0.6, 0.6, 0.6,
    0.6, 0.6, 0.6, 0.6, 0.6, 0.6, 0.6, 0.6, 0.6, 0.6,
    0.6, 0.6, 0.6, 0.6, 0.6, 0.6, 0.6, 0.6, 0.6, 0.6,
    0.6, 0.6, 0.6, 0.6, 0.6, 0.6, 0.6, 0.6, 0.6, 0.6,
    0.6, 0.7, 0.7, 0.7, 0.7, 0.7, 0.7, 0.8, 0.8, 0.9,
    0.9, 0.9, 0.9, 0.9, 0.9, 1.0, 1.1, 1.2, 1.3, 1.3,
    1.3, 1.4, 1.5, 1.6, 1.8, 2.0, 2.2, 2.5, 2.8, 3.0,
    3.2, 3.4,
]
band_70_79 = [
    1.4, 1.4, 1.3, 1.2, 1.2, 1.3, 1.4, 1.5, 1.5, 1.5,
    1.5, 1.4, 1.4, 1.4, 1.5, 1.5, 1.3, 1.4, 1.4, 1.5,
    1.5, 1.5, 1.2, 1.3, 1.3, 1.3, 1.3, 1.3, 1.3, 1.2,
    1.2, 1.1, 1.2, 1.2, 1.1, 1.0, 1.0, 1.0, 1.0, 1.0,
    1.0, 0.9, 0.8, 0.8, 0.7, 0.7, 0.6, 0.6, 0.5, 0.5,
    0.5, 0.4, 0.4, 0.4, 0.4, 0.4, 0.4, 0.3, 0.3, 0.3,
    0.3, 0.3, 0.3, 0.3, 0.3, 0.3, 0.3, 0.3, 0.3, 0.3,
    0.3, 0.3, 0.3, 0.3, 0.3, 0.3, 0.3, 0.3, 0.3, 0.3,
    0.3, 0.3, 0.3, 0.3, 0.3, 0.3, 0.3, 0.3, 0.3, 0.3,
    0.3, 0.3, 0.3, 0.3, 0.3, 0.3, 0.3, 0.3, 0.3, 0.3,
    0.4, 0.4, 0.5, 0.5, 0.5, 0.5, 0.6, 0.6, 0.6, 0.6,
    0.6, 0.6, 0.6, 0.6, 0.6, 0.6, 0.6, 0.6, 0.6, 0.6,
    0.6, 0.6, 0.5, 0.5, 0.6, 0.5, 0.5, 0.5, 0.4, 0.5,
    0.5, 0.5, 0.5, 0.5, 0.5, 0.5, 0.5, 0.5, 0.5, 0.5,
    0.5, 0.5, 0.5, 0.5, 0.5, 0.5, 0.5, 0.5, 0.5, 0.5,
    0.5, 0.5, 0.5, 0.5, 0.5, 0.5, 0.5, 0.5, 0.5, 0.5,
    0.5, 0.5, 0.5, 0.5, 0.5, 0.5, 0.5, 0.5, 0.5, 0.5,
    0.5, 0.5, 0.5, 0.5, 0.5, 0.5, 0.5, 0.5, 0.5, 0.5,
    0.5, 0.5, 0.5, 0.5, 0.5, 0.5, 0.5, 0.5, 0.5, 0.5,
    0.7, 0.7, 0.8, 0.8, 0.9, 0.9, 1.0, 1.0, 0.9, 1.0,
    1.1, 1.1, 1.2, 1.2, 1.3, 1.4, 1.5, 1.7, 1.7, 1.8,
    1.9, 1.9, 2.0, 2.1, 2.3, 2.6, 2.7, 2.9, 3.3, 4.2,
    4.4, 4.6,
]

observed = [obs_0_9, obs_10_19, obs_20_29, obs_30_39, obs_40_49,
            obs_50_59, obs_60_69, obs_70_79, obs_80_plus]
estimate = [fit_0_9, fit_10_19, fit_20_29, fit_30_39, fit_40_49,
            fit_50_59, fit_60_69, fit_70_79, fit_80_plus]
bands = [None, None, None, band_30_39, band_40_49,
         band_50_59, band_60_69, band_70_79, None]

# ---- layout geometry (pixels) ------------------------------------------------
W, H = 1217, 949
col_px = [(67, 445), (454, 832), (840, 1217)]
row_px = [(37.9, 287.3), (337.9, 587.3), (637.9, 887.3)]
x_range = ["2020-03-27 22:48", "2020-11-26 01:12"]
y_range = [-1.35, 28.35]

sans = "Liberation Sans, Arial, sans-serif"
grid_major = "#EAEAEA"
grid_minor = "#EFEFEF"


def rgba(hex_color, alpha):
    h = hex_color.lstrip("#")
    r, g, b = int(h[0:2], 16), int(h[2:4], 16), int(h[4:6], 16)
    return f"rgba({r},{g},{b},{alpha})"


fig = go.Figure()
layout = {}
annotations = []

for i, name in enumerate(age_groups):
    r, c = divmod(i, 3)
    suffix = "" if i == 0 else str(i + 1)
    xa, ya = "x" + suffix, "y" + suffix
    color = group_colors[i]
    obs = observed[i]
    fit = estimate[i]
    band = bands[i]
    obs_dates = pd.date_range(first_day, periods=len(obs), freq="D")
    fit_dates = pd.date_range(first_day, periods=len(fit), freq="D")

    if band is not None:
        lower = [f - b for f, b in zip(fit, band)]
        upper = [f + b for f, b in zip(fit, band)]
        fig.add_trace(go.Scatter(x=fit_dates, y=lower, mode="lines",
                                 line=dict(width=0, color=color),
                                 hoverinfo="skip", xaxis=xa, yaxis=ya))
        fig.add_trace(go.Scatter(x=fit_dates, y=upper, mode="lines",
                                 line=dict(width=0, color=color),
                                 fill="tonexty", fillcolor=rgba(color, 0.3),
                                 hoverinfo="skip", xaxis=xa, yaxis=ya))

    fig.add_trace(go.Scatter(x=fit_dates, y=fit, mode="lines",
                             line=dict(width=1.6, color=color),
                             name=name, xaxis=xa, yaxis=ya))
    fig.add_trace(go.Scatter(x=obs_dates, y=obs, mode="markers",
                             marker=dict(size=9.5, color=color, line=dict(width=0)),
                             name=name, xaxis=xa, yaxis=ya))

    x0, x1 = col_px[c]
    y0, y1 = row_px[r]
    layout["xaxis" + suffix] = dict(
        domain=[x0 / W, x1 / W], anchor=ya, type="date", range=x_range,
        tickmode="array", tickvals=month_ticks, ticktext=month_labels,
        showticklabels=(r == 2), ticks="", ticklabelstandoff=6,
        tickfont=dict(family=sans, size=16.5, color="#4D4D4D"),
        showgrid=True, gridcolor=grid_major, gridwidth=1.6,
        minor=dict(tickvals=month_minor, showgrid=True,
                   gridcolor=grid_minor, gridwidth=1.2),
        zeroline=False, showline=False,
    )
    layout["yaxis" + suffix] = dict(
        domain=[1 - y1 / H, 1 - y0 / H], anchor=xa, range=y_range,
        tickmode="array", tickvals=count_ticks,
        showticklabels=(c == 0), ticks="", ticklabelstandoff=9,
        tickfont=dict(family=sans, size=16.5, color="#4D4D4D"),
        showgrid=True, gridcolor=grid_major, gridwidth=1.6,
        minor=dict(tickvals=count_minor, showgrid=True,
                   gridcolor=grid_minor, gridwidth=1.2),
        zeroline=False, showline=False,
    )

    # facet strip label
    annotations.append(dict(
        text=name, xref="paper", yref="paper",
        x=(x0 + x1) / 2 / W, y=1 - (y0 - 18) / H,
        xanchor="center", yanchor="middle", showarrow=False,
        font=dict(family=sans, size=15.5, color="#1A1A1A"),
    ))

# axis titles
annotations.append(dict(
    text="ic admission date", xref="paper", yref="paper",
    x=642 / W, y=1 - 934 / H, xanchor="center", yanchor="middle",
    showarrow=False, font=dict(family=sans, size=20, color="#000000"),
))
annotations.append(dict(
    text="number of ic admissions", xref="paper", yref="paper",
    x=31 / W, y=1 - 468 / H, xanchor="center", yanchor="middle",
    textangle=-90, showarrow=False,
    font=dict(family=sans, size=23.5, color="#000000"),
))
# heading on a white plate
annotations.append(dict(
    text="IC-afdeling", xref="paper", yref="paper",
    x=637 / W, y=1 - 82 / H, xanchor="center", yanchor="middle",
    showarrow=False, font=dict(family="DejaVu Sans", size=49, color="#E36C00"),
))

fig.update_layout(
    width=W, height=H,
    margin=dict(l=0, r=0, t=0, b=0),
    paper_bgcolor="white", plot_bgcolor="white",
    showlegend=False,
    annotations=annotations,
    shapes=[dict(type="rect", xref="paper", yref="paper",
                 x0=485 / W, x1=792 / W, y0=1 - 118 / H, y1=1 - 36 / H,
                 fillcolor="white", line=dict(width=0), layer="above")],
    **layout,
)

fig.write_html("out.html")
